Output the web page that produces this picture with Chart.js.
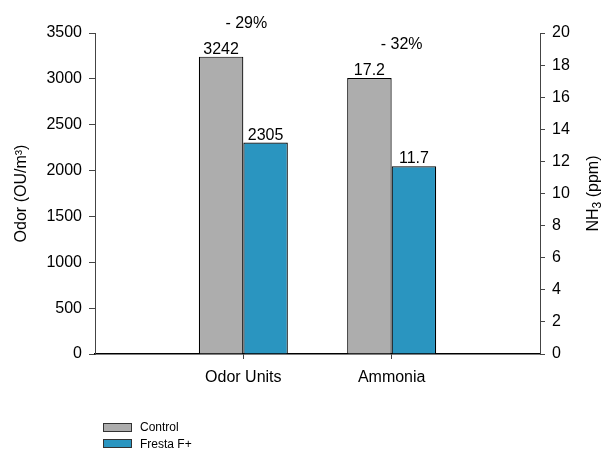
<!DOCTYPE html>
<html>
<head>
<meta charset="utf-8">
<script src="https://cdn.jsdelivr.net/npm/chart.js@4/dist/chart.umd.min.js"></script>
<style>
  html, body { margin: 0; padding: 0; background: #fff; }
  #wrap { position: relative; width: 604px; height: 450px; }
  #legend { position: absolute; left: 103px; top: 419px; font: 12px "Liberation Sans", Arial, sans-serif; color: #000; }
  #legend .item { display: flex; align-items: center; height: 16.5px; }
  #legend .sw { width: 27px; height: 7px; border: 1px solid #333; margin-right: 8px; }
</style>
</head>
<body>
<div id="wrap">
  <canvas id="c" width="604" height="450"></canvas>
  <div id="legend"></div>
</div>
<script>
// Categories (blank slots pad the axis at both ends)
const categories = ['', 'Odor Units', 'Ammonia', ''];
const seriesNames = ['Control', 'Fresta F+'];
const seriesColors = ['#adadad', '#2a95c0'];

// Odor concentration, OU/m³ (left axis)
const odorValues = [3242, 2305];
// Ammonia concentration, ppm (right axis)
const ammoniaValues = [17.2, 11.7];

// Axis ranges
const odorAxis = { min: 0, max: 3500, step: 500 };
const ammoniaAxis = { min: 0, max: 20, step: 2 };

const FONT = '"Liberation Sans", Arial, sans-serif';
const odorIdx = categories.indexOf('Odor Units');
const nh3Idx = categories.indexOf('Ammonia');

function rowAt(idx, v) {
  return categories.map((_, i) => (i === idx ? v : null));
}

const datasets = [];
seriesNames.forEach((name, s) => {
  datasets.push({
    label: name, data: rowAt(odorIdx, odorValues[s]), yAxisID: 'y',
    backgroundColor: seriesColors[s], borderColor: '#000', borderWidth: 1.2
  });
});
seriesNames.forEach((name, s) => {
  datasets.push({
    label: name, data: rowAt(nh3Idx, ammoniaValues[s]), yAxisID: 'y1',
    backgroundColor: seriesColors[s], borderColor: '#000', borderWidth: 1.2
  });
});

// Value labels above bars, percent change above each pair, and NH3 axis title
const annotate = {
  id: 'annotate',
  afterDatasetsDraw(chart) {
    const ctx = chart.ctx;
    ctx.save();
    ctx.fillStyle = '#000';
    ctx.font = '16px ' + FONT;
    ctx.textAlign = 'center';
    ctx.textBaseline = 'alphabetic';
    chart.data.datasets.forEach((ds, di) => {
      const meta = chart.getDatasetMeta(di);
      ds.data.forEach((v, i) => {
        if (v === null) return;
        const el = meta.data[i];
        ctx.fillText(String(v), el.x, el.y - 3);
      });
    });
    // percent change, Fresta F+ vs Control
    const pairs = [
      { idx: odorIdx, vals: odorValues, ds: 0, nudge: 3 },
      { idx: nh3Idx, vals: ammoniaValues, ds: 2, nudge: 10 }
    ];
    pairs.forEach(p => {
      const pct = (p.vals[1] - p.vals[0]) / p.vals[0] * 100;
      const txt = (pct < 0 ? '- ' : '+ ') + Math.abs(Math.round(pct)) + '%';
      const el = chart.getDatasetMeta(p.ds).data[p.idx];
      const cx = chart.scales.x.getPixelForValue(p.idx) + p.nudge;
      ctx.fillText(txt, cx, el.y - 29);
    });
    ctx.restore();
  },
  afterDraw(chart) {
    const ctx = chart.ctx;
    const area = chart.chartArea;
    ctx.save();
    ctx.fillStyle = '#000';
    ctx.textBaseline = 'middle';
    ctx.textAlign = 'left';
    const big = '16px ' + FONT, small = '12px ' + FONT;
    ctx.font = big; const wNH = ctx.measureText('NH').width; const wRest = ctx.measureText(' (ppm)').width;
    ctx.font = small; const w3 = ctx.measureText('3').width;
    const total = wNH + w3 + wRest;
    ctx.translate(594, (area.top + area.bottom) / 2);
    ctx.rotate(-Math.PI / 2);
    let x = -total / 2;
    ctx.font = big; ctx.fillText('NH', x, 0); x += wNH;
    ctx.font = small; ctx.fillText('3', x, 4); x += w3;
    ctx.font = big; ctx.fillText(' (ppm)', x, 0);
    ctx.restore();
  }
};

const tickFont = { family: FONT, size: 16 };
const plain = v => String(v);

new Chart(document.getElementById('c'), {
  type: 'bar',
  data: { labels: categories, datasets },
  options: {
    responsive: false,
    animation: false,
    devicePixelRatio: 1,
    layout: { padding: { top: 33, left: 0, right: 0, bottom: 0 } },
    datasets: { bar: { skipNull: true, categoryPercentage: 0.6, barPercentage: 1.0 } },
    plugins: { legend: { display: false }, tooltip: { enabled: false } },
    scales: {
      x: {
        offset: false,
        grid: {
          offset: false, drawOnChartArea: false, drawTicks: true, tickLength: 5,
          tickColor: c => (c.index === odorIdx || c.index === nh3Idx) ? '#444' : 'rgba(0,0,0,0)'
        },
        border: { color: '#000', width: 1.5 },
        ticks: { color: '#000', font: tickFont, padding: 9, maxRotation: 0, autoSkip: false },
        afterFit: s => { s.height = 96; }
      },
      y: {
        position: 'left',
        min: odorAxis.min, max: odorAxis.max,
        grid: { drawOnChartArea: false, tickLength: 6, tickColor: '#444' },
        border: { color: '#444', width: 1 },
        ticks: { stepSize: odorAxis.step, color: '#000', font: tickFont, padding: 7, callback: plain },
        title: { display: true, text: 'Odor (OU/m³)', color: '#000', font: { family: FONT, size: 16 }, padding: { top: 12 } },
        afterFit: s => { s.width = 95; }
      },
      y1: {
        position: 'right',
        min: ammoniaAxis.min, max: ammoniaAxis.max,
        grid: { drawOnChartArea: false, tickLength: 5, tickColor: '#444' },
        border: { color: '#444', width: 1 },
        ticks: { stepSize: ammoniaAxis.step, color: '#000', font: tickFont, padding: 7, callback: plain },
        afterFit: s => { s.width = 64; }
      }
    }
  },
  plugins: [annotate]
});

// Legend
const legend = document.getElementById('legend');
seriesNames.forEach((name, s) => {
  const item = document.createElement('div');
  item.className = 'item';
  const sw = document.createElement('span');
  sw.className = 'sw';
  sw.style.background = seriesColors[s];
  const t = document.createElement('span');
  t.textContent = name;
  item.appendChild(sw); item.appendChild(t);
  legend.appendChild(item);
});
</script>
</body>
</html>
